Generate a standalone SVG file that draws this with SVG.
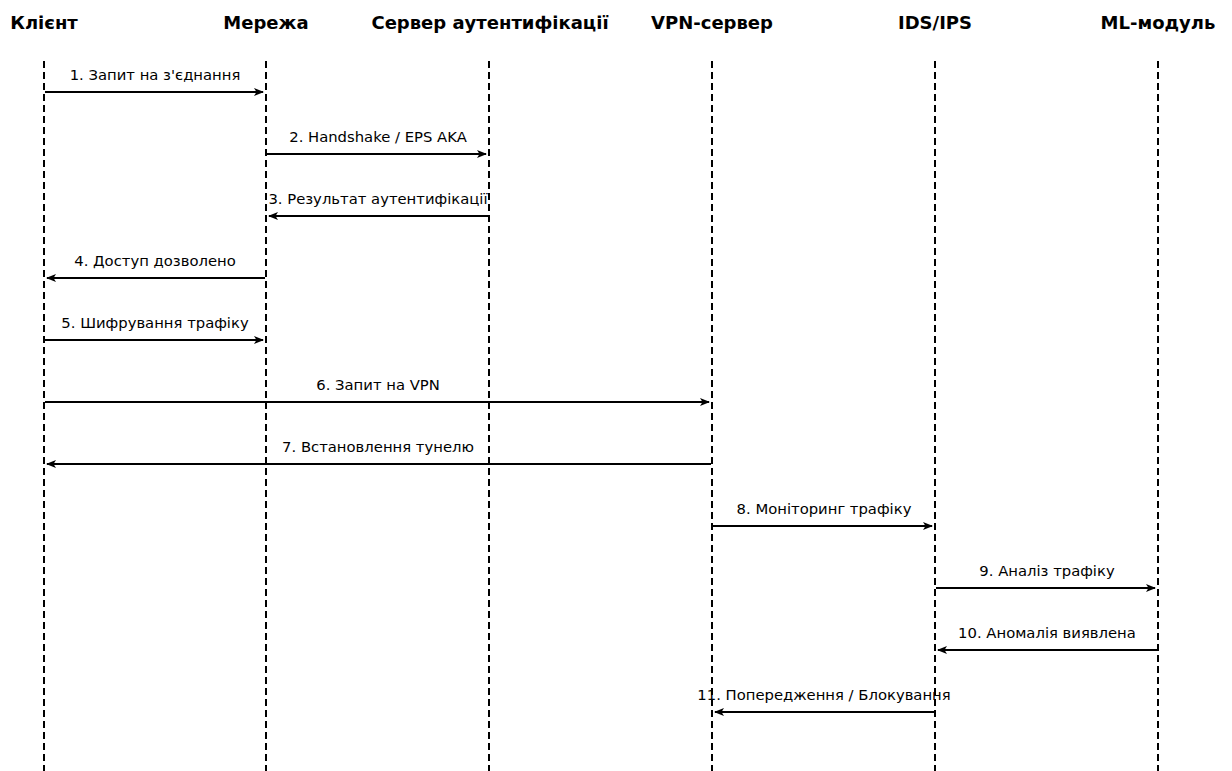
<svg xmlns="http://www.w3.org/2000/svg" width="1232" height="771" viewBox="0 0 1232 771">
<style>
.hdr{font-family:"DejaVu Sans",sans-serif;font-weight:bold;font-size:18px;text-anchor:middle;fill:#000}
.lbl{font-family:"DejaVu Sans",sans-serif;font-size:14.8px;text-anchor:middle;fill:#000}
.life{stroke:#000;stroke-width:2;stroke-dasharray:7,4;fill:none}
.msg{stroke:#000;stroke-width:2;fill:none;marker-end:url(#ah)}
</style>
<defs>
<marker id="ah" viewBox="0 0 10 8" refX="9" refY="4" markerWidth="10" markerHeight="8" markerUnits="userSpaceOnUse" orient="auto">
<path d="M0,0 L10,4 L0,8 L2.5,4 z" fill="#000"/>
</marker>
</defs>
<rect width="1232" height="771" fill="#fff"/>
<g id="client"><text class="hdr" x="44" y="29">Клієнт</text><line class="life" x1="44" y1="61" x2="44" y2="771"/></g>
<g id="network"><text class="hdr" x="266" y="29">Мережа</text><line class="life" x1="266" y1="61" x2="266" y2="771"/></g>
<g id="auth"><text class="hdr" x="490" y="29">Сервер аутентифікації</text><line class="life" x1="489" y1="61" x2="489" y2="771"/></g>
<g id="vpn"><text class="hdr" x="712" y="29">VPN-сервер</text><line class="life" x1="712" y1="61" x2="712" y2="771"/></g>
<g id="ids"><text class="hdr" x="935" y="29">IDS/IPS</text><line class="life" x1="935" y1="61" x2="935" y2="771"/></g>
<g id="ml"><text class="hdr" x="1158" y="29">ML-модуль</text><line class="life" x1="1158" y1="61" x2="1158" y2="771"/></g>
<g id="connectors">
<line class="msg" x1="45" y1="92" x2="263" y2="92"/><text class="lbl" x="155" y="80">1. Запит на з'єднання</text>
<line class="msg" x1="267" y1="154" x2="486" y2="154"/><text class="lbl" x="378" y="142">2. Handshake / EPS AKA</text>
<line class="msg" x1="488" y1="216" x2="269" y2="216"/><text class="lbl" x="378" y="204">3. Результат аутентифікації</text>
<line class="msg" x1="265" y1="278" x2="47" y2="278"/><text class="lbl" x="155" y="266">4. Доступ дозволено</text>
<line class="msg" x1="45" y1="340" x2="263" y2="340"/><text class="lbl" x="155" y="328">5. Шифрування трафіку</text>
<line class="msg" x1="45" y1="402" x2="709" y2="402"/><text class="lbl" x="378" y="390">6. Запит на VPN</text>
<line class="msg" x1="711" y1="464" x2="47" y2="464"/><text class="lbl" x="378" y="452">7. Встановлення тунелю</text>
<line class="msg" x1="713" y1="526" x2="932" y2="526"/><text class="lbl" x="824" y="514">8. Моніторинг трафіку</text>
<line class="msg" x1="936" y1="588" x2="1155" y2="588"/><text class="lbl" x="1047" y="576">9. Аналіз трафіку</text>
<line class="msg" x1="1157" y1="650" x2="938" y2="650"/><text class="lbl" x="1047" y="638">10. Аномалія виявлена</text>
<line class="msg" x1="934" y1="712" x2="715" y2="712"/><text class="lbl" x="824" y="700">11. Попередження / Блокування</text>
</g>
</svg>
